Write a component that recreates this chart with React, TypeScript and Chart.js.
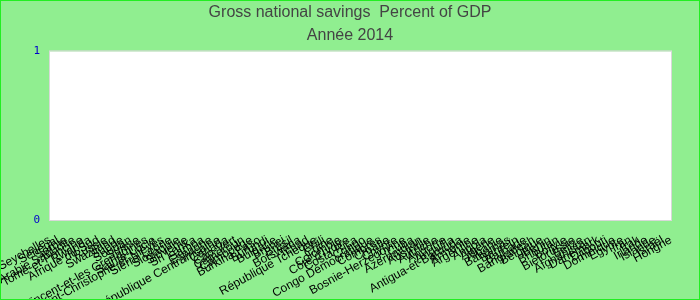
import React, { useEffect, useRef } from "react";
import { Chart, registerables } from "chart.js";

Chart.register(...registerables);

const titleLines = ["Gross national savings  Percent of GDP", "Année 2014"];

const countries = [
  "Seychelles", "Sénégal", "Serbie", "Arabie Saoudite", "Sao Tomé-et-Principe", "Rwanda",
  "Afrique du Sud", "Russie", "Swaziland", "Suède", "Soudan", "Suisse",
  "Saint-Vincent-et-les Grenadines", "Sainte-Lucie", "Saint-Christophe-et-Niévès", "Sierra Leone",
  "Slovaquie", "Slovénie", "Sri Lanka", "Samoa", "Espagne", "République Centrafricaine",
  "Canada", "Cap-Vert", "Cameroun", "Cambodge", "Burkina Faso", "Burundi", "Bulgarie", "Brunei",
  "Brésil", "Botswana", "Tchad", "République Tchèque", "Chili", "Chine", "Colombie",
  "Côte d'Ivoire", "Costa Rica", "Congo", "Congo Démocratique", "Comores", "Croatie", "Chypre",
  "Bosnie-Herzégovine", "Cuba", "Azerbaïdjan", "Australie", "Autriche", "Andorre", "Anguilla",
  "Antigua-et-Barbuda", "Arménie", "Argentine", "Angola", "Algérie", "Albanie", "Bahamas",
  "Bahreïn", "Barbade", "Bangladesh", "Belgique", "Bénin", "Bhoutan", "Bolivie", "Biélorussie",
  "Belize", "Afghanistan", "Danemark", "Djibouti", "Dominique", "Égypte", "Iran", "Irak",
  "Irlande", "Islande", "Israël", "Hongrie",
];

// No values are shown for 2014 in the reference chart.
const savings: (number | null)[] = [
  null, null, null, null, null, null, null, null, null, null, null, null, null,
  null, null, null, null, null, null, null, null, null, null, null, null, null,
  null, null, null, null, null, null, null, null, null, null, null, null, null,
  null, null, null, null, null, null, null, null, null, null, null, null, null,
  null, null, null, null, null, null, null, null, null, null, null, null, null,
  null, null, null, null, null, null, null, null, null, null, null, null, null,
];

const yTicks = [0, 1];

const plotBg = {
  id: "plotBg",
  beforeDraw(chart: any) {
    const { ctx, chartArea } = chart;
    if (!chartArea) return;
    ctx.save();
    ctx.fillStyle = "#ffffff";
    ctx.fillRect(chartArea.left, chartArea.top, chartArea.right - chartArea.left, chartArea.bottom - chartArea.top);
    ctx.strokeStyle = "#d8d8d8";
    ctx.lineWidth = 1;
    ctx.strokeRect(chartArea.left - 0.5, chartArea.top - 0.5, chartArea.right - chartArea.left + 1, chartArea.bottom - chartArea.top + 1);
    ctx.restore();
  },
};

export default function App() {
  const ref = useRef<HTMLCanvasElement>(null);
  useEffect(() => {
    document.body.style.margin = "0";
    const chart = new Chart(ref.current!, {
      type: "line",
      data: {
        labels: countries,
        datasets: [
          {
            label: "Gross national savings",
            data: savings,
            borderColor: "#3366cc",
            backgroundColor: "#3366cc",
            yAxisID: "y",
          },
        ],
      },
      options: {
        animation: false,
        responsive: false,
        layout: { padding: 0 },
        plugins: {
          legend: { display: false },
          tooltip: { enabled: false },
          title: {
            display: true,
            text: titleLines,
            color: "#444444",
            font: { family: "Liberation Sans, Arial, sans-serif", size: 16, weight: "normal", lineHeight: 1.45 },
            padding: { top: 0, bottom: 4 },
          },
        },
        scales: {
          x: {
            offset: false,
            grid: { display: false },
            border: { display: false },
            ticks: {
              autoSkip: false,
              maxRotation: 29,
              minRotation: 29,
              color: "#000000",
              padding: 5,
              font: { family: "Liberation Sans, Arial, sans-serif", size: 12 },
            },
            afterFit(scale: any) {
              scale.height = 79;
              scale.paddingLeft = 0;
              scale.paddingRight = 0;
            },
          },
          y: {
            position: "left",
            min: yTicks[0],
            max: yTicks[yTicks.length - 1],
            grid: { display: false },
            border: { display: false },
            ticks: {
              stepSize: 1,
              color: "#0000cc",
              padding: 2,
              font: { family: "DejaVu Sans Mono, monospace", size: 11 },
            },
            afterFit(scale: any) {
              scale.width = 49;
            },
          },
          yRight: {
            position: "right",
            min: 0,
            max: 1,
            grid: { display: false },
            border: { display: false },
            ticks: { display: false },
            afterFit(scale: any) {
              scale.width = 28;
            },
          },
        },
      },
      plugins: [plotBg],
    });
    return () => chart.destroy();
  }, []);
  return (
    <div
      style={{
        width: 700,
        height: 300,
        boxSizing: "border-box",
        border: "1px solid #22ee22",
        background: "#90ee90",
        overflow: "hidden",
      }}
    >
      <canvas ref={ref} width={698} height={298} style={{ display: "block" }} />
    </div>
  );
}
